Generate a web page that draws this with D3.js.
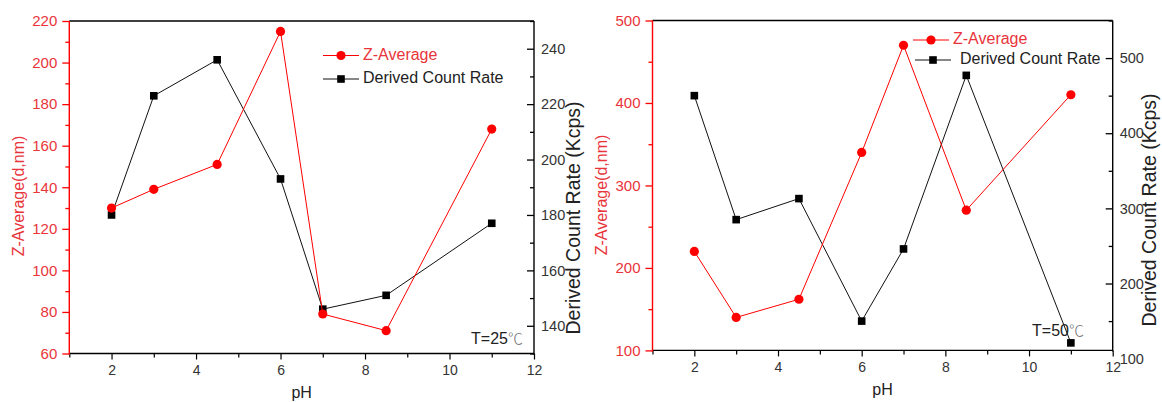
<!DOCTYPE html>
<html>
<head>
<meta charset="utf-8">
<script src="https://cdn.jsdelivr.net/npm/d3@7/dist/d3.min.js"></script>
<style>
  html, body { margin: 0; padding: 0; background: #fff; }
  svg { display: block; font-family: "Liberation Sans", Arial, sans-serif; }
</style>
</head>
<body>
<svg id="chart" width="1162" height="402"></svg>
<script>
// ---------------- data ----------------
const pH = [2, 3, 4.5, 6, 7, 8.5, 11];
const zAvg25 = [130, 139, 151, 215, 79, 71, 168];
const dcr25  = [180, 223, 236, 193, 146, 151, 177];
const zAvg50 = [220, 140, 162, 340, 470, 270, 410];
const dcr50  = [450, 285, 313, 150, 246, 477, 121];

const xTicks = [2, 4, 6, 8, 10, 12];
const xMinor = [1, 3, 5, 7, 9, 11];
const zTicks25 = [60, 80, 100, 120, 140, 160, 180, 200, 220];
const zMinor25 = [70, 90, 110, 130, 150, 170, 190, 210];
const dcrTicks25 = [140, 160, 180, 200, 220, 240];
const dcrMinor25 = [130, 150, 170, 190, 210, 230, 250];
const zTicks50 = [100, 200, 300, 400, 500];
const zMinor50 = [150, 250, 350, 450];
const dcrTicks50 = [100, 200, 300, 400, 500];
const dcrMinor50 = [150, 250, 350, 450, 550];

const seriesNames = ["Z-Average", "Derived Count Rate"];
const xTitle = "pH";
const yLeftTitle = "Z-Average(d,nm)";
const yRightTitle = "Derived Count Rate (Kcps)";
const tempText = ["T=25", "T=50"];
const degree = "℃";

// ---------------- layout ----------------
const RED = "#ff0000";
const RED_TEXT = "#e8343a";
const svg = d3.select("#chart");

const panels = [
  { x0: 69.3, x1: 534, y0: 21, y1: 353.5,
    zDom: [60, 220], dDom: [130, 250],
    z: zAvg25, d: dcr25,
    zT: zTicks25, zM: zMinor25, dT: dcrTicks25, dM: dcrMinor25,
    temp: tempText[0], tempX: 523, tempY: 340,
    legX: 323, legY: [55.5, 79], legTextX: 363,
    lTitleX: 20, lTitleY: 196, rTitleX: 575, rTitleY: 218 },
  { x0: 652.5, x1: 1112.7, y0: 20.5, y1: 350.4,
    zDom: [100, 500], dDom: [111, 550],
    z: zAvg50, d: dcr50,
    zT: zTicks50, zM: zMinor50, dT: dcrTicks50, dM: dcrMinor50,
    temp: tempText[1], tempX: 1084, tempY: 332,
    legX: 913, legY: [40, 60], legTextX: 953, legX2: 915, legTextX2: 960,
    lTitleX: 603, lTitleY: 195, rTitleX: 1151, rTitleY: 210 }
];

function inDom(s, v) { const d = s.domain(); return v >= Math.min(d[0], d[1]) - 1e-9 && v <= Math.max(d[0], d[1]) + 1e-9; }

function drawPanel(p) {
  const g = svg.append("g");
  const x = d3.scaleLinear().domain([1, 12]).range([p.x0, p.x1]);
  const yz = d3.scaleLinear().domain(p.zDom).range([p.y1, p.y0]);
  const yd = d3.scaleLinear().domain(p.dDom).range([p.y1, p.y0]);
  const font = "Liberation Sans, Arial";

  // top frame line
  g.append("line").attr("x1", p.x0).attr("x2", p.x1).attr("y1", p.y0).attr("y2", p.y0)
    .attr("stroke", "#000").attr("stroke-width", 1.3);

  // bottom axis
  const bx = g.append("g").attr("transform", `translate(0,${p.y1})`);
  bx.call(d3.axisBottom(x).tickValues(xMinor).tickSize(4).tickFormat("").tickSizeOuter(0));
  bx.select(".domain").remove();
  const bx2 = g.append("g").attr("transform", `translate(0,${p.y1})`);
  bx2.call(d3.axisBottom(x).tickValues(xTicks).tickSize(6).tickPadding(5.5).tickSizeOuter(0));
  bx2.select(".domain").remove();
  bx2.selectAll("text").attr("font-size", 14).attr("fill", "#333").attr("font-family", font);
  bx.selectAll("line").attr("stroke", "#000").attr("stroke-width", 1.2);
  bx2.selectAll("line").attr("stroke", "#000").attr("stroke-width", 1.2);
  g.append("line").attr("x1", p.x0).attr("x2", p.x1).attr("y1", p.y1).attr("y2", p.y1)
    .attr("stroke", "#000").attr("stroke-width", 1.3);

  // left axis (red)
  const la = g.append("g").attr("transform", `translate(${p.x0},0)`);
  la.call(d3.axisLeft(yz).tickValues(p.zM).tickSize(4).tickFormat("").tickSizeOuter(0));
  la.select(".domain").remove();
  const la2 = g.append("g").attr("transform", `translate(${p.x0},0)`);
  la2.call(d3.axisLeft(yz).tickValues(p.zT).tickSize(7).tickPadding(5).tickSizeOuter(0));
  la2.select(".domain").remove();
  la.selectAll("line").attr("stroke", RED).attr("stroke-width", 1.3);
  la2.selectAll("line").attr("stroke", RED).attr("stroke-width", 1.3);
  la2.selectAll("text").attr("font-size", 15).attr("fill", RED_TEXT).attr("font-family", font);
  g.append("line").attr("x1", p.x0).attr("x2", p.x0).attr("y1", p.y0).attr("y2", p.y1 + 1)
    .attr("stroke", RED).attr("stroke-width", 1.4);

  // right axis (black, inward ticks)
  const ra = g.append("g").attr("transform", `translate(${p.x1},0)`);
  ra.call(d3.axisRight(yd).tickValues(p.dM.filter(v => inDom(yd, v))).tickSize(-4).tickFormat("").tickSizeOuter(0));
  ra.select(".domain").remove();
  const ra2 = g.append("g").attr("transform", `translate(${p.x1},0)`);
  ra2.call(d3.axisRight(yd).tickValues(p.dT).tickSize(-7).tickPadding(7).tickSizeOuter(0));
  ra2.select(".domain").remove();
  ra2.selectAll(".tick").filter(v => !inDom(yd, v)).select("line").remove();
  ra.selectAll("line").attr("stroke", "#000").attr("stroke-width", 1.3);
  ra2.selectAll("line").attr("stroke", "#000").attr("stroke-width", 1.3);
  ra2.selectAll("text").attr("font-size", 14.5).attr("fill", "#333").attr("font-family", font);
  g.append("line").attr("x1", p.x1).attr("x2", p.x1).attr("y1", p.y0).attr("y2", p.y1 + 1)
    .attr("stroke", "#000").attr("stroke-width", 1.4);

  // titles
  g.append("text").attr("x", (p.x0 + p.x1) / 2).attr("y", p.y1 + 40)
    .attr("text-anchor", "middle").attr("dominant-baseline", "middle")
    .attr("font-size", 16).attr("fill", "#222").text(xTitle);
  g.append("text").attr("transform", `translate(${p.lTitleX},${p.lTitleY}) rotate(-90)`)
    .attr("text-anchor", "middle").attr("dominant-baseline", "middle")
    .attr("font-size", 16).attr("fill", RED_TEXT).text(yLeftTitle);
  g.append("text").attr("transform", `translate(${p.rTitleX},${p.rTitleY}) rotate(-90)`)
    .attr("text-anchor", "middle").attr("dominant-baseline", "middle")
    .attr("font-size", 19.5).attr("fill", "#222").text(yRightTitle);

  // series
  const dcrPts = pH.map((v, i) => [x(v), yd(p.d[i])]);
  const zPts = pH.map((v, i) => [x(v), yz(p.z[i])]);
  const line = d3.line();
  g.append("path").attr("d", line(dcrPts)).attr("fill", "none").attr("stroke", "#111").attr("stroke-width", 1);
  g.selectAll(null).data(dcrPts).enter().append("rect")
    .attr("x", d => d[0] - 3.8).attr("y", d => d[1] - 3.8).attr("width", 7.6).attr("height", 7.6).attr("fill", "#000");
  g.append("path").attr("d", line(zPts)).attr("fill", "none").attr("stroke", RED).attr("stroke-width", 1);
  g.selectAll(null).data(zPts).enter().append("circle")
    .attr("cx", d => d[0]).attr("cy", d => d[1]).attr("r", 4.6).attr("fill", RED);

  // legend
  const lx1 = p.legX, lx2 = p.legX2 || p.legX;
  const tx1 = p.legTextX, tx2 = p.legTextX2 || p.legTextX;
  g.append("line").attr("x1", lx1).attr("x2", lx1 + 36).attr("y1", p.legY[0]).attr("y2", p.legY[0]).attr("stroke", RED);
  g.append("circle").attr("cx", lx1 + 18).attr("cy", p.legY[0]).attr("r", 4.6).attr("fill", RED);
  g.append("text").attr("x", tx1).attr("y", p.legY[0]).attr("dominant-baseline", "middle")
    .attr("font-size", 16).attr("fill", RED_TEXT).text(seriesNames[0]);
  g.append("line").attr("x1", lx2).attr("x2", lx2 + 36).attr("y1", p.legY[1]).attr("y2", p.legY[1]).attr("stroke", "#111");
  g.append("rect").attr("x", lx2 + 18 - 3.8).attr("y", p.legY[1] - 3.8).attr("width", 7.6).attr("height", 7.6).attr("fill", "#000");
  g.append("text").attr("x", tx2).attr("y", p.legY[1]).attr("dominant-baseline", "middle")
    .attr("font-size", 16).attr("fill", "#222").text(seriesNames[1]);

  // temperature note
  const t = g.append("text").attr("x", p.tempX).attr("y", p.tempY).attr("text-anchor", "end")
    .attr("dominant-baseline", "middle").attr("font-size", 16).attr("fill", "#222");
  t.append("tspan").text(p.temp);
  t.append("tspan").attr("font-family", "Noto Sans CJK SC").attr("font-weight", 300)
    .attr("fill", "#777").attr("font-size", 15).text(degree);
}

panels.forEach(drawPanel);
</script>
</body>
</html>
